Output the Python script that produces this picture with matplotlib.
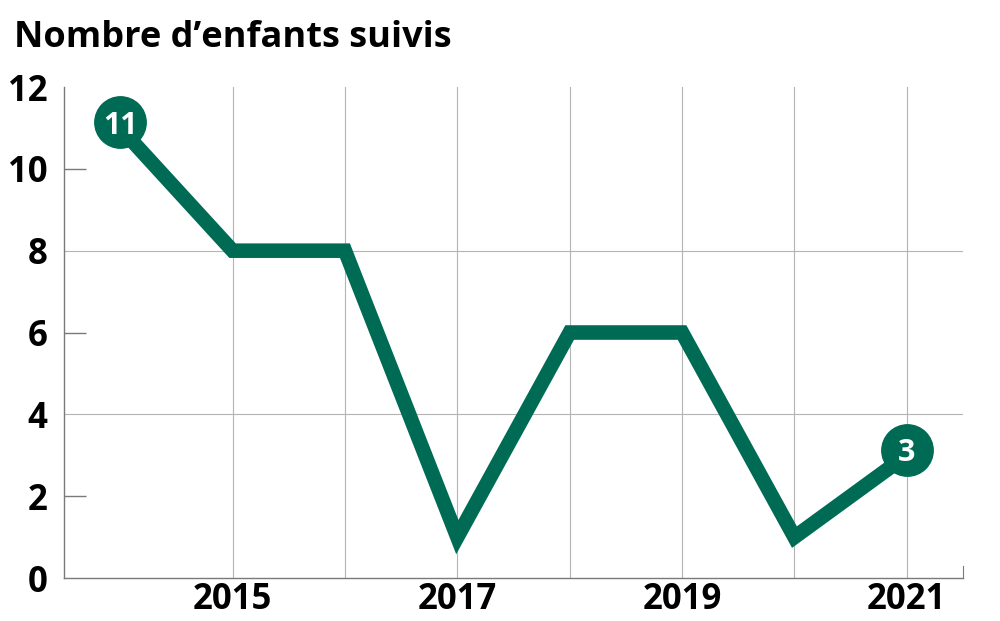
import numpy as np
import matplotlib
matplotlib.use("Agg")
import matplotlib.pyplot as plt
import matplotlib.transforms as mtransforms

# Data ==================================================================
years = [2014, 2015, 2016, 2017, 2018, 2019, 2020, 2021]
enfants = [11, 8, 8, 1, 6, 6, 1, 3]
grid_years = [2015, 2016, 2017, 2018, 2019, 2020, 2021]
xtick_years = [2015, 2017, 2019, 2021]
yticks_major = [0, 2, 4, 6, 8, 10, 12]
ygrid = [4, 8]
yticks_minor = [2, 6, 10]
title = "Nombre d\u2019enfants suivis"

green = "#006b54"
grid_col = "#b4b4b4"
axis_col = "#7a7a7a"

plt.rcParams['font.family'] = ['Open Sans', 'DejaVu Sans']

fig = plt.figure(figsize=(10, 6.21), dpi=100)
ax = fig.add_axes([0.064, 0.0692, 0.899, 0.7907])

for yr in grid_years:
    ax.axvline(yr, color=grid_col, lw=0.8, zorder=1)
for yv in ygrid:
    ax.axhline(yv, color=grid_col, lw=0.8, zorder=1)

ax.plot(years, enfants, color=green, lw=10.5, solid_joinstyle='miter',
        solid_capstyle='butt', zorder=3)

# end markers with value labels (sit slightly above the line ends)
shift = mtransforms.offset_copy(ax.transData, fig=fig, x=0, y=4, units='points')
for i in (0, -1):
    ax.plot(years[i], enfants[i], 'o', ms=37, color=green, zorder=4,
            transform=shift)
    ax.text(years[i], enfants[i], str(enfants[i]), color='white', fontsize=22,
            fontweight='bold', ha='center', va='center_baseline', zorder=5,
            transform=shift)

ax.set_xlim(2013.5, 2021.5)
ax.set_ylim(0, 12)

ax.set_xticks(xtick_years)
ax.set_xticklabels([str(y) for y in xtick_years])
ax.set_yticks(yticks_major)
ax.set_yticks(yticks_minor, minor=True)
ax.yaxis.remove_overlapping_locs = False
ax.tick_params(axis='both', which='major', length=0, labelsize=25)
ax.tick_params(axis='x', which='major', pad=3)
ax.tick_params(axis='y', which='major', pad=12)
ax.tick_params(axis='y', which='minor', direction='in', length=16,
               width=1.0, color=axis_col)
for lab in ax.get_xticklabels() + ax.get_yticklabels():
    lab.set_fontweight('bold')

ax.spines['top'].set_visible(False)
ax.spines['left'].set_color(axis_col)
ax.spines['bottom'].set_color(axis_col)
ax.spines['left'].set_linewidth(1.0)
ax.spines['bottom'].set_linewidth(1.0)
ax.spines['right'].set_color(axis_col)
ax.spines['right'].set_bounds(0, 0.3)

fig.text(0.014, 1 - 47 / 621, title, fontsize=26, fontweight='bold',
         ha='left', va='baseline')

fig.savefig("out.png", dpi=100)
